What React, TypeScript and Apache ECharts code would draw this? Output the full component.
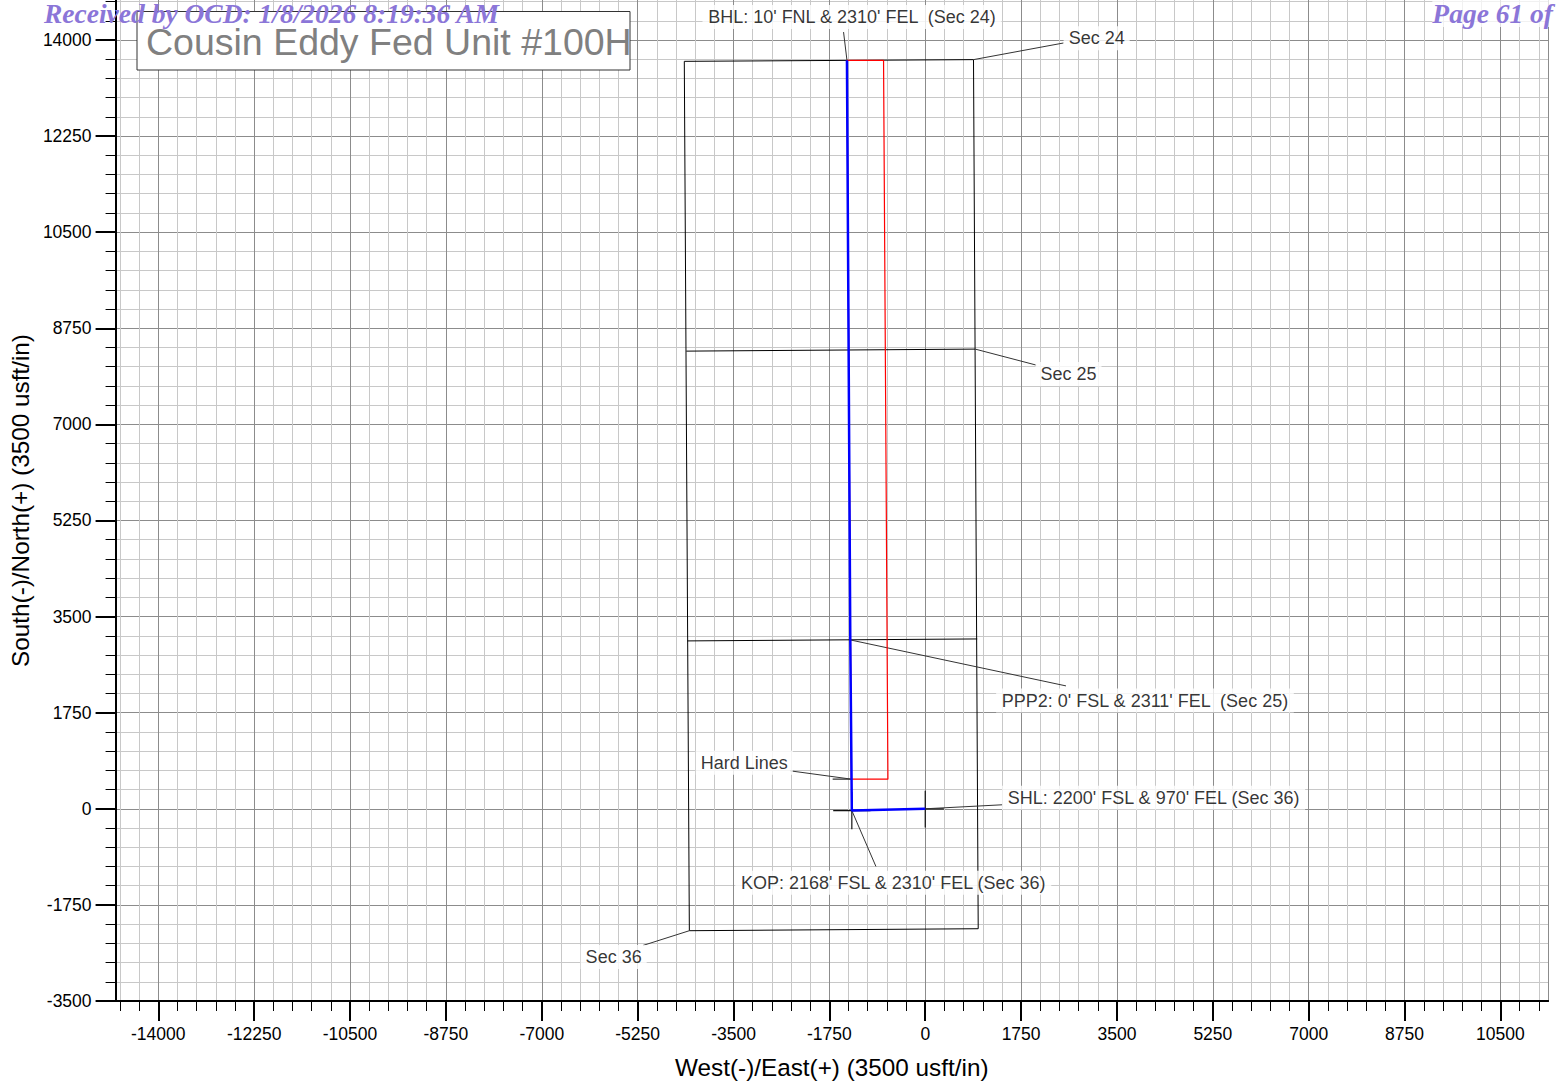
import React, { useEffect, useRef } from "react";
import * as echarts from "echarts";

// Axis extents (usft)
const X_MIN = -14780;
const X_MAX = 11368;
const Y_MIN = -3500;
const Y_MAX = 14728;

// Major tick labels
const xMajorTicks = [-14000, -12250, -10500, -8750, -7000, -5250, -3500, -1750, 0, 1750, 3500, 5250, 7000, 8750, 10500];
const yMajorTicks = [-3500, -1750, 0, 1750, 3500, 5250, 7000, 8750, 10500, 12250, 14000];
const MINOR_STEP = 350;

// Section outlines (West/East, South/North)
const sectionOutline = [[-4398, 13611], [881, 13642], [967, -2184], [-4306, -2220], [-4398, 13611]];
const sec25TopLine = [[-4361, 8334], [912, 8371]];
const sec36TopLine = [[-4343, 3057], [949, 3093]];

// Hard lines (red)
const hardLines = [[-1429, 13630], [-761, 13630], [-681, 540], [-1350, 540], [-1429, 13630]];

// Well plan (blue): SHL -> KOP -> PPP2 -> BHL
const wellPath = [[0, 0], [-1340, -32], [-1368, 3075], [-1429, 13630]];

// Point markers (black crosses)
const shlCrossV = [[0, -340], [0, 330]];
const shlCrossH = [[-340, 0], [340, 0]];
const kopCrossV = [[-1340, -372], [-1340, 308]];
const kopCrossH = [[-1680, -32], [-1000, -32]];
const hardLineMark = [[-1690, 540], [-1350, 540]];

// Leader lines: [from, to]
const leaderBHL = [[-1491, 14144], [-1429, 13630]];
const leaderSec24 = [[2524, 13945], [881, 13642]];
const leaderSec25 = [[912, 8371], [2025, 8080]];
const leaderPPP2 = [[-1368, 3075], [2569, 2238]];
const leaderHard = [[-2463, 691], [-1350, 540]];
const leaderSHL = [[0, 0], [1405, 73]];
const leaderKOP = [[-1340, -32], [-900, -1050]];
const leaderSec36 = [[-5151, -2488], [-4306, -2220]];

// Annotation labels: [x, y, text]
const annotations: [number, number, string][] = [
  [-1337, 14418, "BHL: 10' FNL & 2310' FEL  (Sec 24)"],
  [3129, 14030, "Sec 24"],
  [2615, 7916, "Sec 25"],
  [4011, 1971, "PPP2: 0' FSL & 2311' FEL  (Sec 25)"],
  [-3303, 837, "Hard Lines"],
  [4169, 200, "SHL: 2200' FSL & 970' FEL (Sec 36)"],
  [-584, -1347, "KOP: 2168' FSL & 2310' FEL (Sec 36)"],
  [-5688, -2699, "Sec 36"],
];

const FONT = "'Liberation Sans', Arial, sans-serif";
const STAMP_FONT = "italic bold 27.5px 'Liberation Serif', 'Times New Roman', serif";

function minorValues(from: number, to: number) {
  const out: number[] = [];
  for (let v = Math.ceil(from / MINOR_STEP) * MINOR_STEP; v <= to; v += MINOR_STEP) out.push(v);
  return out;
}

function lineSeries(data: number[][], color: string, width: number, z = 3) {
  return {
    type: "line",
    data,
    symbol: "none",
    silent: true,
    animation: false,
    z,
    lineStyle: { color, width },
    xAxisIndex: 0,
    yAxisIndex: 0,
  };
}

export default function App() {
  const ref = useRef<HTMLDivElement>(null);
  useEffect(() => {
    if (!ref.current) return;
    const chart = echarts.init(ref.current, undefined, { renderer: "svg" });
    const xMinor = minorValues(X_MIN, X_MAX);
    const yMinor = minorValues(Y_MIN, Y_MAX);
    const fmt = (v: number) => String(v);
    const tickLabel = { fontSize: 17.5, color: "#000", fontFamily: FONT };

    const option: any = {
      animation: false,
      backgroundColor: "#fff",
      grid: { left: 115, right: 10, top: 0, bottom: 82.3, containLabel: false },
      xAxis: [
        {
          type: "value", position: "bottom", min: X_MIN, max: X_MAX,
          axisLine: { show: true, onZero: false, lineStyle: { color: "#000", width: 2 } },
          axisTick: { show: true, customValues: xMinor, length: 10, lineStyle: { color: "#000", width: 1 } },
          axisLabel: { show: false },
          splitLine: { show: true, lineStyle: { color: "#c8c8c8", width: 1 } },
        },
        {
          type: "value", position: "bottom", min: X_MIN, max: X_MAX,
          axisLine: { show: true, onZero: false, lineStyle: { color: "#000", width: 2 } },
          axisTick: { show: true, customValues: xMajorTicks, length: 20, lineStyle: { color: "#000", width: 2 } },
          axisLabel: { show: true, customValues: xMajorTicks, formatter: fmt, margin: 24, ...tickLabel },
          splitLine: { show: true, lineStyle: { color: "#8c8c8c", width: 1 } },
          name: "West(-)/East(+) (3500 usft/in)",
          nameLocation: "middle",
          nameGap: 66,
          nameTextStyle: { fontSize: 24.3, color: "#000", fontFamily: FONT, verticalAlign: "middle" },
        },
      ],
      yAxis: [
        {
          type: "value", position: "left", min: Y_MIN, max: Y_MAX,
          axisLine: { show: true, onZero: false, lineStyle: { color: "#000", width: 2 } },
          axisTick: { show: true, customValues: yMinor, length: 10, lineStyle: { color: "#000", width: 1 } },
          axisLabel: { show: false },
          splitLine: { show: true, lineStyle: { color: "#c8c8c8", width: 1 } },
        },
        {
          type: "value", position: "left", min: Y_MIN, max: Y_MAX,
          axisLine: { show: true, onZero: false, lineStyle: { color: "#000", width: 2 } },
          axisTick: { show: true, customValues: yMajorTicks, length: 20, lineStyle: { color: "#000", width: 2 } },
          axisLabel: { show: true, customValues: yMajorTicks, formatter: fmt, margin: 24, ...tickLabel },
          splitLine: { show: true, lineStyle: { color: "#8c8c8c", width: 1 } },
          name: "South(-)/North(+) (3500 usft/in)",
          nameLocation: "middle",
          nameGap: 91,
          nameTextStyle: { fontSize: 24.3, color: "#000", fontFamily: FONT, verticalAlign: "middle" },
        },
        {
          type: "value", position: "right", min: Y_MIN, max: Y_MAX,
          axisLine: { show: true, onZero: false, lineStyle: { color: "#8c8c8c", width: 1 } },
          axisTick: { show: false },
          axisLabel: { show: false },
          splitLine: { show: false },
        },
      ],
      series: [
        lineSeries(sectionOutline, "#000", 1),
        lineSeries(sec25TopLine, "#000", 1),
        lineSeries(sec36TopLine, "#000", 1),
        lineSeries(shlCrossV, "#111", 1.2),
        lineSeries(shlCrossH, "#111", 1.2),
        lineSeries(kopCrossV, "#111", 1.2),
        lineSeries(kopCrossH, "#111", 1.2),
        lineSeries(hardLineMark, "#333", 1.2),
        lineSeries(leaderBHL, "#333", 1),
        lineSeries(leaderSec24, "#333", 1),
        lineSeries(leaderSec25, "#333", 1),
        lineSeries(leaderPPP2, "#333", 1),
        lineSeries(leaderHard, "#333", 1),
        lineSeries(leaderSHL, "#333", 1),
        lineSeries(leaderKOP, "#333", 1),
        lineSeries(leaderSec36, "#333", 1),
        lineSeries(hardLines, "#ff0000", 1.2, 4),
        lineSeries(wellPath, "#0000ff", 2.5, 5),
        {
          type: "scatter",
          silent: true,
          z: 10,
          symbolSize: 1,
          itemStyle: { color: "transparent" },
          data: annotations.map(([x, y, t]) => ({ value: [x, y], name: t })),
          label: {
            show: true,
            position: "inside",
            formatter: (p: any) => p.name,
            fontSize: 18,
            fontFamily: FONT,
            color: "#000",
            backgroundColor: "#fff",
            padding: [3, 5],
          },
        },
      ],
      graphic: [
        {
          type: "rect", z: 100,
          shape: { x: 137, y: 11.5, width: 493, height: 58.5 },
          style: { fill: "#fff", stroke: "#333", lineWidth: 1 },
        },
        {
          type: "text", z: 101, x: 146, y: 42,
          style: { text: "Cousin Eddy Fed Unit #100H", font: `37.5px ${FONT}`, fill: "#808080", verticalAlign: "middle", align: "left" },
        },
        {
          type: "text", z: 102, x: 44, y: 0,
          style: { text: "Received by OCD: 1/8/2026 8:19:36 AM", font: STAMP_FONT, fill: "#8b76d8", verticalAlign: "top", align: "left" },
        },
        {
          type: "text", z: 102, x: 1553, y: 0,
          style: { text: "Page 61 of", font: STAMP_FONT, fill: "#8b76d8", verticalAlign: "top", align: "right", backgroundColor: "rgba(255,255,255,0.75)" },
        },
      ],
    };
    chart.setOption(option);
    return () => chart.dispose();
  }, []);
  return <div ref={ref} style={{ position: "absolute", left: 0, top: 0, width: 1558, height: 1084 }} />;
}
